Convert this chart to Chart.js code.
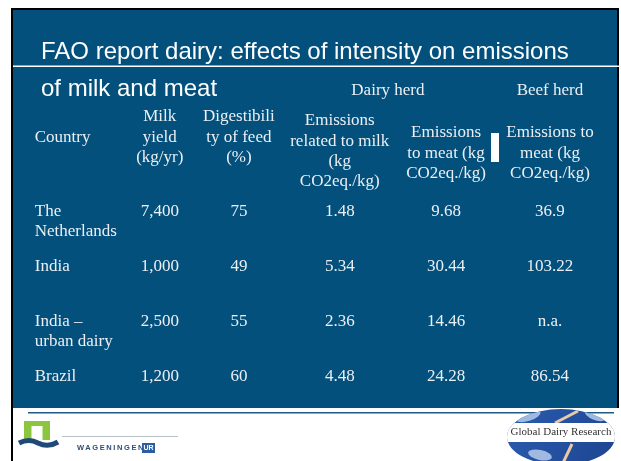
<!DOCTYPE html>
<html>
<head>
<meta charset="utf-8">
<script src="https://cdn.jsdelivr.net/npm/chart.js@4/dist/chart.umd.min.js"></script>
<style>
  html, body { margin: 0; padding: 0; background: #ffffff; }
  canvas { display: block; }
</style>
</head>
<body>
<canvas id="slide" width="621" height="461"></canvas>
<script>
// table data (FAO report, dairy)
const countries = [['The', 'Netherlands'], ['India'], ['India –', 'urban dairy'], ['Brazil']];
const milkYield = [7400, 1000, 2500, 1200];
const digestibility = [75, 49, 55, 60];
const emisMilkDairy = [1.48, 5.34, 2.36, 4.48];
const emisMeatDairy = [9.68, 30.44, 14.46, 24.28];
const emisMeatBeef = [36.9, 103.22, null, 86.54];

const headers = [
    ['Country'],
    ['Milk', 'yield', '(kg/yr)'],
    ['Digestibili', 'ty of feed', '(%)'],
    ['Emissions', 'related to milk', '(kg', 'CO2eq./kg)'],
    ['Emissions', 'to meat (kg', 'CO2eq./kg)'],
    ['Emissions to', 'meat (kg', 'CO2eq./kg)']
];
const groups = ['Dairy herd', 'Beef herd'];
const titleLines = ['FAO report dairy: effects of intensity on emissions', 'of milk and meat'];

// layout (fraction of table width for each column, header first-line y)
const colPos = [0.036, 0.243, 0.374, 0.541, 0.717, 0.889];
const headerTop = [138, 117, 117, 121, 133, 133];
const lineH = 20.3;
const BLUE = '#03507d';
const TXT = '#eceff2';
const SERIF = '"Liberation Serif", "Times New Roman", serif';
const SANS = '"Liberation Sans", Arial, sans-serif';

const fmtMilk = v => v.toLocaleString('en-US');
const fmtNum = v => v === null ? 'n.a.' : String(v);

const columns = [
    countries.map(c => c),
    milkYield.map(v => [fmtMilk(v)]),
    digestibility.map(v => [fmtNum(v)]),
    emisMilkDairy.map(v => [fmtNum(v)]),
    emisMeatDairy.map(v => [fmtNum(v)]),
    emisMeatBeef.map(v => [fmtNum(v)])
];

const datasets = columns.map((col, c) => ({
    label: headers[c].join(' '),
    data: col.map((_, r) => ({ x: colPos[c], y: r })),
    cellText: col,
    pointRadius: 0,
    showLine: false
}));

const slideBackground = {
    id: 'slideBackground',
    beforeDraw(chart) {
        const ctx = chart.ctx;
        ctx.save();
        ctx.fillStyle = '#ffffff';
        ctx.fillRect(0, 0, 621, 461);
        // frame
        ctx.fillStyle = '#000000';
        ctx.fillRect(11, 8, 608, 400);
        ctx.fillRect(11, 8, 2, 453);
        ctx.fillStyle = BLUE;
        ctx.fillRect(13, 10, 604, 398);

        // title
        ctx.fillStyle = '#ffffff';
        ctx.font = '24px ' + SANS;
        ctx.textBaseline = 'alphabetic';
        ctx.textAlign = 'left';
        ctx.fillText(titleLines[0], 41, 59);
        ctx.fillText(titleLines[1], 41, 96);
        ctx.fillRect(13, 65.5, 606, 1.5);

        // footer line
        ctx.fillStyle = '#1d5a86';
        ctx.fillRect(28, 412, 586, 1.5);

        // Wageningen logo
        ctx.fillStyle = '#8cc63f';
        ctx.fillRect(24, 421, 26, 19);
        ctx.fillStyle = '#ffffff';
        ctx.fillRect(31.5, 426, 11, 14);
        ctx.strokeStyle = '#1f4a78';
        ctx.lineWidth = 5;
        ctx.beginPath();
        ctx.moveTo(19, 443);
        ctx.quadraticCurveTo(29, 438, 38, 443);
        ctx.quadraticCurveTo(48, 448, 58, 442);
        ctx.stroke();
        ctx.strokeStyle = '#b8c0c8';
        ctx.lineWidth = 1;
        ctx.beginPath();
        ctx.moveTo(62, 436.5);
        ctx.lineTo(178, 436.5);
        ctx.stroke();
        ctx.fillStyle = '#2d4f78';
        ctx.font = 'bold 7.5px ' + SANS;
        ctx.letterSpacing = '1.6px';
        ctx.textBaseline = 'middle';
        ctx.fillText('WAGENINGEN', 77, 448);
        ctx.letterSpacing = '0px';
        ctx.fillStyle = '#2a5ea0';
        ctx.fillRect(142, 443, 13, 10);
        ctx.fillStyle = '#ffffff';
        ctx.font = 'bold 7px ' + SANS;
        ctx.fillText('UR', 143.5, 448.5);

        // Global Dairy Research globe
        ctx.save();
        ctx.beginPath();
        ctx.ellipse(561, 437, 54, 28, 0, 0, Math.PI * 2);
        ctx.clip();
        const g = ctx.createLinearGradient(507, 409, 615, 465);
        g.addColorStop(0, '#2a5cb0');
        g.addColorStop(1, '#1d4590');
        ctx.fillStyle = g;
        ctx.fillRect(500, 405, 120, 70);
        ctx.fillStyle = '#9fb9e0';
        ctx.beginPath(); ctx.ellipse(528, 416, 13, 5, -0.3, 0, Math.PI * 2); ctx.fill();
        ctx.beginPath(); ctx.ellipse(595, 415, 11, 5, 0.4, 0, Math.PI * 2); ctx.fill();
        ctx.beginPath(); ctx.ellipse(540, 455, 12, 5, 0.2, 0, Math.PI * 2); ctx.fill();
        ctx.strokeStyle = '#e9c9a6';
        ctx.lineWidth = 3;
        ctx.beginPath(); ctx.moveTo(555, 423); ctx.lineTo(578, 411); ctx.stroke();
        ctx.beginPath(); ctx.moveTo(562, 465); ctx.lineTo(572, 444); ctx.stroke();
        ctx.fillStyle = '#ffffff';
        ctx.fillRect(500, 423, 120, 19);
        ctx.restore();
        ctx.fillStyle = '#333333';
        ctx.font = '11px ' + SERIF;
        ctx.textAlign = 'center';
        ctx.textBaseline = 'middle';
        ctx.fillText('Global Dairy Research', 561, 432.5);

        ctx.restore();
    }
};

const tableText = {
    id: 'tableText',
    afterDatasetsDraw(chart) {
        const ctx = chart.ctx;
        const xs = chart.scales.x;
        ctx.save();
        ctx.fillStyle = TXT;
        ctx.font = '17px ' + SERIF;
        ctx.textBaseline = 'middle';

        // group headers
        ctx.textAlign = 'center';
        ctx.fillText(groups[0], (xs.getPixelForValue(colPos[3]) + xs.getPixelForValue(colPos[4])) / 2 - 5, 91);
        ctx.fillText(groups[1], xs.getPixelForValue(colPos[5]), 91);

        // column headers
        headers.forEach((lines, c) => {
            ctx.textAlign = c === 0 ? 'left' : 'center';
            const x = xs.getPixelForValue(colPos[c]);
            lines.forEach((t, k) => ctx.fillText(t, x, headerTop[c] + k * lineH));
        });

        // cells
        chart.data.datasets.forEach((ds, c) => {
            ctx.textAlign = c === 0 ? 'left' : 'center';
            chart.getDatasetMeta(c).data.forEach((pt, r) => {
                ds.cellText[r].forEach((t, k) => ctx.fillText(t, pt.x, pt.y + k * lineH));
            });
        });

        // stray white marker from the original slide
        ctx.fillStyle = '#ffffff';
        ctx.fillRect(491, 133, 8, 29);
        ctx.restore();
    }
};

new Chart(document.getElementById('slide').getContext('2d'), {
    type: 'scatter',
    data: { datasets: datasets },
    options: {
        responsive: false,
        animation: false,
        layout: { padding: { left: 13, right: 4, top: 183.4, bottom: 56.4 } },
        scales: {
            x: { type: 'linear', min: 0, max: 1, display: false },
            y: { type: 'linear', min: -0.5, max: 3.5, reverse: true, display: false }
        },
        plugins: {
            legend: { display: false },
            title: { display: false },
            tooltip: { enabled: false }
        }
    },
    plugins: [slideBackground, tableText]
});
</script>
</body>
</html>
